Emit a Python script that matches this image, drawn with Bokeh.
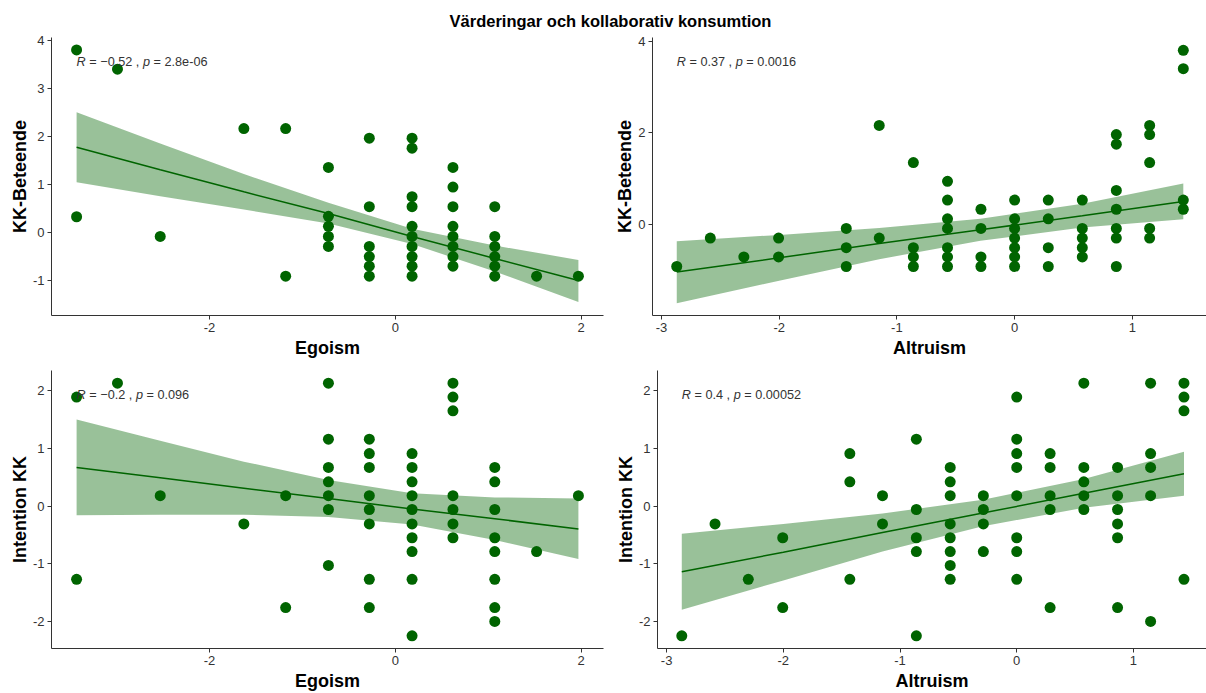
from bokeh.plotting import figure
from bokeh.layouts import column, row
from bokeh.models import FixedTicker, Range1d, PrintfTickFormatter
from bokeh.core.properties import value
from bokeh.embed import file_html
from bokeh.resources import INLINE

TITLE = "Värderingar och kollaborativ konsumtion"
FONT = "Liberation Sans"
GREEN = "#006400"

# ---------------- Panel A: Egoism vs KK-Beteende ----------------
ego_kk_x = [-3.43, -3.43, -2.99, -2.53, -1.63, -1.18, -1.18,
            -0.72, -0.72, -0.72, -0.72, -0.72,
            -0.28, -0.28, -0.28, -0.28, -0.28, -0.28,
            0.18, 0.18, 0.18, 0.18, 0.18, 0.18, 0.18, 0.18, 0.18, 0.18,
            0.62, 0.62, 0.62, 0.62, 0.62, 0.62, 0.62, 0.62,
            1.07, 1.07, 1.07, 1.07, 1.07, 1.07,
            1.52, 1.97]
ego_kk_y = [3.80, 0.32, 3.40, -0.09, 2.16, 2.16, -0.92,
            1.35, 0.33, 0.12, -0.09, -0.30,
            1.96, 0.53, -0.30, -0.51, -0.71, -0.92,
            1.96, 1.75, 0.74, 0.53, 0.12, -0.09, -0.30, -0.51, -0.71, -0.92,
            1.35, 0.94, 0.53, 0.12, -0.09, -0.30, -0.51, -0.71,
            0.53, -0.09, -0.30, -0.51, -0.71, -0.92,
            -0.92, -0.92]
ego_kk_fit_x = [-3.43, -2.53, -1.63, -0.72, 0.18, 1.07, 1.97]
ego_kk_fit = [1.77, 1.30, 0.84, 0.39, -0.09, -0.55, -1.01]
ego_kk_lo = [1.04, 0.75, 0.47, 0.18, -0.25, -0.82, -1.46]
ego_kk_hi = [2.50, 1.85, 1.21, 0.61, 0.07, -0.28, -0.58]
ego_kk_r, ego_kk_p = "−0.52", "2.8e-06"

# ---------------- Panel B: Altruism vs KK-Beteende ----------------
alt_kk_x = [-2.87, -2.585, -2.30, -2.005, -2.005,
            -1.43, -1.43, -1.43, -1.15, -1.15,
            -0.86, -0.86, -0.86, -0.86,
            -0.57, -0.57, -0.57, -0.57, -0.57, -0.57, -0.57,
            -0.286, -0.286, -0.286, -0.286,
            0.0, 0.0, 0.0, 0.0, 0.0, 0.0, 0.0,
            0.286, 0.286, 0.286, 0.286,
            0.575, 0.575, 0.575, 0.575, 0.575,
            0.864, 0.864, 0.864, 0.864, 0.864, 0.864, 0.864,
            1.147, 1.147, 1.147, 1.147, 1.147,
            1.433, 1.433, 1.433, 1.433]
alt_kk_y = [-0.92, -0.30, -0.71, -0.30, -0.71,
            -0.09, -0.51, -0.92, 2.16, -0.30,
            1.35, -0.51, -0.71, -0.92,
            0.94, 0.53, 0.12, -0.09, -0.51, -0.71, -0.92,
            0.33, -0.09, -0.71, -0.92,
            0.53, 0.12, -0.09, -0.30, -0.51, -0.71, -0.92,
            0.53, 0.12, -0.51, -0.92,
            0.53, -0.09, -0.30, -0.51, -0.71,
            1.96, 1.75, 0.74, 0.33, -0.09, -0.30, -0.92,
            2.16, 1.96, 1.35, -0.09, -0.30,
            3.80, 3.40, 0.53, 0.33]
alt_kk_fit_x = [-2.87, -2.0, -1.15, -0.29, 0.575, 1.433]
alt_kk_fit = [-1.04, -0.73, -0.42, -0.12, 0.19, 0.50]
alt_kk_lo = [-1.72, -1.23, -0.76, -0.36, -0.07, 0.11]
alt_kk_hi = [-0.37, -0.23, -0.08, 0.12, 0.45, 0.89]
alt_kk_r, alt_kk_p = "0.37", "0.0016"

# ---------------- Panel C: Egoism vs Intention KK ----------------
ego_int_x = [-3.43, -3.43, -2.99, -2.53, -1.63, -1.18, -1.18,
             -0.72, -0.72, -0.72, -0.72, -0.72, -0.72, -0.72,
             -0.28, -0.28, -0.28, -0.28, -0.28, -0.28, -0.28, -0.28,
             0.18, 0.18, 0.18, 0.18, 0.18, 0.18, 0.18, 0.18, 0.18, 0.18,
             0.62, 0.62, 0.62, 0.62, 0.62, 0.62, 0.62,
             1.07, 1.07, 1.07, 1.07, 1.07, 1.07, 1.07, 1.07,
             1.52, 1.97]
ego_int_y = [1.89, -1.27, 2.13, 0.18, -0.31, 0.18, -1.76,
             2.13, 1.16, 0.67, 0.42, 0.18, -0.06, -1.03,
             1.16, 0.91, 0.67, 0.18, -0.06, -0.31, -1.27, -1.76,
             0.91, 0.67, 0.42, 0.18, -0.06, -0.31, -0.55, -0.79, -1.27, -2.25,
             2.13, 1.89, 1.65, 0.18, -0.06, -0.31, -0.55,
             0.67, 0.42, -0.06, -0.55, -0.79, -1.27, -1.76, -2.00,
             -0.79, 0.18]
ego_int_fit_x = [-3.43, -2.53, -1.63, -0.72, 0.18, 1.07, 1.97]
ego_int_fit = [0.67, 0.49, 0.31, 0.13, -0.05, -0.22, -0.40]
ego_int_lo = [-0.16, -0.15, -0.15, -0.19, -0.32, -0.59, -0.92]
ego_int_hi = [1.50, 1.13, 0.77, 0.45, 0.22, 0.15, 0.13]
ego_int_r, ego_int_p = "−0.2", "0.096"

# ---------------- Panel D: Altruism vs Intention KK ----------------
alt_int_x = [-2.87, -2.585, -2.30, -2.005, -2.005,
             -1.43, -1.43, -1.43, -1.15, -1.15,
             -0.86, -0.86, -0.86, -0.86, -0.86,
             -0.57, -0.57, -0.57, -0.57, -0.57, -0.57, -0.57, -0.57,
             -0.286, -0.286, -0.286, -0.286,
             0.0, 0.0, 0.0, 0.0, 0.0, 0.0, 0.0, 0.0,
             0.286, 0.286, 0.286, 0.286, 0.286,
             0.575, 0.575, 0.575, 0.575, 0.575,
             0.864, 0.864, 0.864, 0.864, 0.864, 0.864,
             1.147, 1.147, 1.147, 1.147, 1.147,
             1.433, 1.433, 1.433, 1.433]
alt_int_y = [-2.25, -0.31, -1.27, -0.55, -1.76,
             0.91, 0.42, -1.27, 0.18, -0.31,
             1.16, -0.06, -0.55, -0.79, -2.25,
             0.67, 0.42, 0.18, -0.31, -0.55, -0.79, -1.03, -1.27,
             0.18, -0.06, -0.31, -0.79,
             1.89, 1.16, 0.91, 0.67, 0.18, -0.55, -0.79, -1.27,
             0.91, 0.67, 0.18, -0.06, -1.76,
             2.13, 0.67, 0.42, 0.18, -0.06,
             0.67, 0.18, -0.06, -0.31, -0.55, -1.76,
             2.13, 0.91, 0.67, 0.18, -2.00,
             2.13, 1.89, 1.65, -1.27]
alt_int_fit_x = [-2.87, -2.0, -1.15, -0.29, 0.575, 1.433]
alt_int_fit = [-1.14, -0.80, -0.46, -0.12, 0.22, 0.56]
alt_int_lo = [-1.80, -1.29, -0.79, -0.35, -0.03, 0.18]
alt_int_hi = [-0.48, -0.31, -0.13, 0.11, 0.47, 0.94]
alt_int_r, alt_int_p = "0.4", "0.00052"

# Arial / Liberation Sans advance widths (per 1000 em)
CW = {"R": 722, "p": 556, " ": 278, "=": 584, "−": 584, ".": 278, ",": 278,
      "e": 556, "-": 333}
for d in "0123456789":
    CW[d] = 556
ANN_FS = 12.7


def tw(s):
    return sum(CW.get(c, 556) for c in s) * ANN_FS / 1000.0


def make_panel(xs, ys, fx, fy, flo, fhi, xr, yr, xticks, yticks, xlabel, ylabel,
               w, h, bl, br, bt, bb, r_txt, p_txt, ax, ay):
    p = figure(width=w, height=h, x_range=Range1d(*xr), y_range=Range1d(*yr),
               toolbar_location=None, output_backend="svg",
               min_border_left=bl, min_border_right=br,
               min_border_top=bt, min_border_bottom=bb)
    p.grid.visible = False
    p.outline_line_color = None
    p.background_fill_color = "white"
    p.border_fill_color = "white"
    for axis, ticks, lab in ((p.xaxis, xticks, xlabel), (p.yaxis, yticks, ylabel)):
        axis.ticker = FixedTicker(ticks=ticks)
        axis.formatter = PrintfTickFormatter(format="%d")
        axis.major_tick_out = 4
        axis.major_tick_in = 0
        axis.minor_tick_out = 0
        axis.minor_tick_in = 0
        axis.axis_line_color = "#333333"
        axis.axis_line_width = 1
        axis.major_tick_line_color = "#333333"
        axis.major_label_text_font = FONT
        axis.major_label_text_font_size = "13px"
        axis.major_label_text_color = "#333333"
        axis.major_label_standoff = 3
        axis.axis_label = lab
        axis.axis_label_text_font = FONT
        axis.axis_label_text_font_size = "18px"
        axis.axis_label_text_font_style = "bold"
        axis.axis_label_text_color = "black"
    p.xaxis.axis_label_standoff = 3
    p.yaxis.axis_label_standoff = 0
    p.yaxis.major_label_orientation = "horizontal"

    p.varea(x=fx, y1=flo, y2=fhi, fill_color=GREEN, fill_alpha=0.4)
    p.scatter(xs, ys, size=11, fill_color=GREEN, line_color=None)
    p.line(fx, fy, line_color=GREEN, line_width=1.5)

    pieces = [
        ("R", 0.0, "italic"),
        ("= " + r_txt + " ,", tw("R "), "normal"),
        ("p", tw("R = " + r_txt + " , "), "italic"),
        ("= " + p_txt, tw("R = " + r_txt + " , p "), "normal"),
    ]
    for txt, off, style in pieces:
        p.text(x=[ax], y=[ay], text=[txt], x_offset=off,
               text_font=value(FONT), text_font_style=style,
               text_font_size=f"{ANN_FS}px", text_color="#333333",
               text_align="left", text_baseline="middle")
    return p


pA = make_panel(ego_kk_x, ego_kk_y, ego_kk_fit_x, ego_kk_fit, ego_kk_lo, ego_kk_hi,
                (-3.70, 2.24), (-1.74, 4.06), [-2, 0, 2], [-1, 0, 1, 2, 3, 4],
                "Egoism", "KK-Beteende", 606, 330, 51, 3, 7, 45,
                ego_kk_r, ego_kk_p, -3.43, 3.55)
pB = make_panel(alt_kk_x, alt_kk_y, alt_kk_fit_x, alt_kk_fit, alt_kk_lo, alt_kk_hi,
                (-3.076, 1.63), (-1.99, 4.08), [-3, -2, -1, 0, 1], [0, 2, 4],
                "Altruism", "KK-Beteende", 600, 330, 46, 0, 7, 45,
                alt_kk_r, alt_kk_p, -2.87, 3.54)
pC = make_panel(ego_int_x, ego_int_y, ego_int_fit_x, ego_int_fit, ego_int_lo, ego_int_hi,
                (-3.70, 2.24), (-2.47, 2.35), [-2, 0, 2], [-2, -1, 0, 1, 2],
                "Egoism", "Intention KK", 606, 333, 51, 3, 10, 44,
                ego_int_r, ego_int_p, -3.43, 1.92)
pD = make_panel(alt_int_x, alt_int_y, alt_int_fit_x, alt_int_fit, alt_int_lo, alt_int_hi,
                (-3.078, 1.626), (-2.47, 2.35), [-3, -2, -1, 0, 1], [-2, -1, 0, 1, 2],
                "Altruism", "Intention KK", 600, 333, 51, 0, 10, 44,
                alt_int_r, alt_int_p, -2.87, 1.92)

pt = figure(width=1206, height=30, x_range=(0, 1206), y_range=(0, 30),
            toolbar_location=None, output_backend="svg", min_border=0)
pt.axis.visible = False
pt.grid.visible = False
pt.outline_line_color = None
pt.text(x=[610], y=[9.5], text=[TITLE], text_font=value(FONT),
        text_font_style="bold", text_font_size="16.5px", text_color="black",
        text_align="center", text_baseline="middle")

layout = column(pt, row(pA, pB), row(pC, pD))
open("out.html", "w").write(file_html(layout, INLINE))
